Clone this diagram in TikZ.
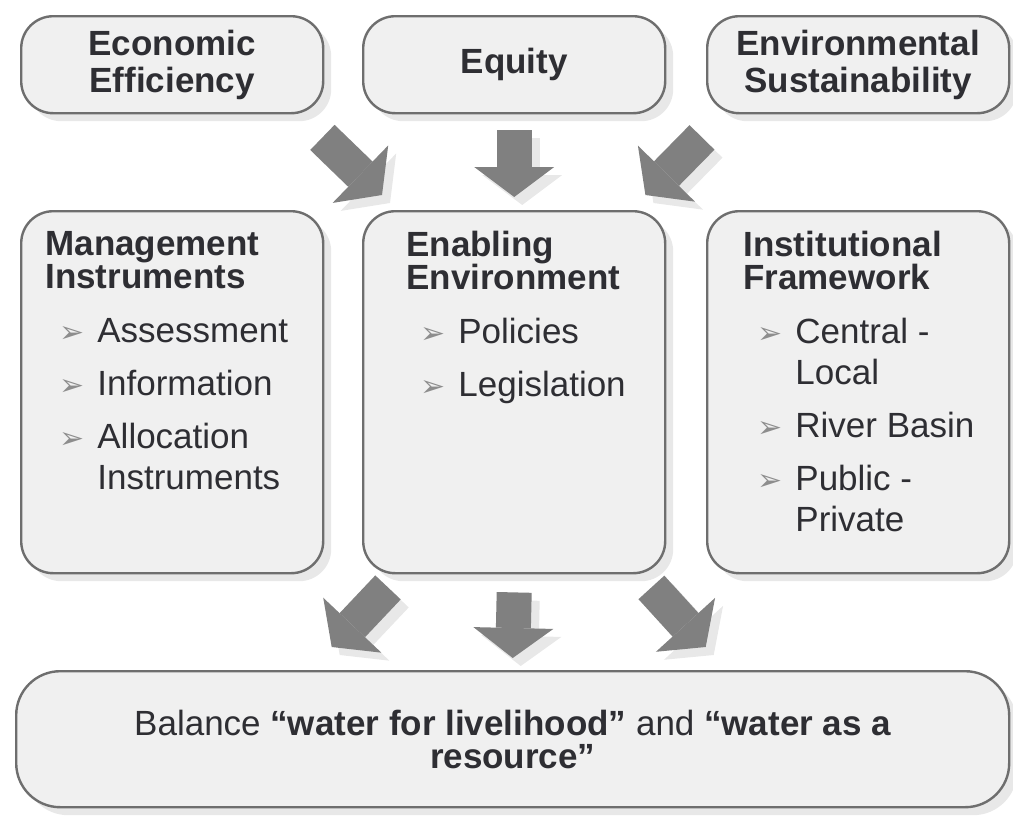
\documentclass[tikz,border=0pt]{standalone}
\usepackage{fontspec}
\setmainfont{Liberation Sans}
\newfontfamily\bulletfont{DejaVu Sans}
\usetikzlibrary{arrows.meta,shadows,calc}

\definecolor{boxfill}{HTML}{F0F0F0}
\definecolor{boxline}{HTML}{6E6E6E}
\definecolor{arrowgray}{HTML}{808080}
\definecolor{shadegray}{HTML}{E8E8E8}
\definecolor{textdark}{HTML}{2E2E33}

\newcommand{\bul}{{\bulletfont\fontsize{15}{15}\selectfont\color{arrowgray!90}➢}}
\newcommand{\itm}[1]{\hspace*{7pt}\makebox[19pt][l]{\bul}#1}
\newcommand{\cnt}[1]{\hspace*{26pt}#1}

\tikzset{
  box/.style={draw=boxline, line width=1.2pt, fill=boxfill, rounded corners=16pt,
    drop shadow={shadow xshift=4pt, shadow yshift=-4pt, fill=shadegray, opacity=1},
    anchor=north west, inner sep=0pt, text=textdark},
  topbox/.style={minimum width=151pt, minimum height=48.5pt, align=center,
    font={\fontsize{17.5}{18.5}\selectfont\bfseries}},
  midbox/.style={minimum width=151pt, minimum height=181pt},
  listtext/.style={anchor=north west, inner sep=0pt, align=left, text=textdark,
    font={\fontsize{17.5}{16.5}\selectfont}},
  bigarrow/.style={arrowgray, line width=17.5pt,
    -{Triangle[length=15pt, width=40pt, line width=0pt]}},
  arrowshade/.style={shadegray, line width=17.5pt,
    -{Triangle[length=15pt, width=40pt, line width=0pt]},
    transform canvas={shift={(4pt,-4pt)}}}
}

\begin{document}
\begin{tikzpicture}[x=0.5pt, y=0.5pt]
\useasboundingbox (0,0) rectangle (1013,-815);
% top row
\node[box, topbox] (eff) at (20,-15) {Economic\\Efficiency};
\node[box, topbox] (equity) at (362,-15) {Equity};
\node[box, topbox] (env) at (706,-15) {Environmental\\Sustainability};
% middle row
\node[box, midbox] (mgmt) at (20,-210) {};
\node[box, midbox] (enab) at (362,-210) {};
\node[box, midbox] (inst) at (706,-210) {};
\node[listtext] (mgmttext) at ($(mgmt.north west)+(25,-21)$)
  {\textbf{Management}\\\textbf{Instruments}\\[10.5pt]
   \itm{Assessment}\\[10pt] \itm{Information}\\[10pt]
   \itm{Allocation}\\[4pt] \cnt{Instruments}};
\node[listtext] (enabtext) at ($(enab.north west)+(44,-21)$)
  {\textbf{Enabling}\\\textbf{Environment}\\[10.5pt]
   \itm{Policies}\\[10pt] \itm{Legislation}};
\node[listtext] (insttext) at ($(inst.north west)+(37,-21)$)
  {\textbf{Institutional}\\\textbf{Framework}\\[10.5pt]
   \itm{Central -}\\[4pt] \cnt{Local}\\[10pt] \itm{River Basin}\\[10pt]
   \itm{Public -}\\[4pt] \cnt{Private}};
% bottom row
\node[box, rounded corners=22pt, minimum width=496.5pt, minimum height=68pt,
  align=center, font={\fontsize{17.5}{16.5}\selectfont}] (bal) at (15,-670)
  {Balance \textbf{“water for livelihood”} and \textbf{“water as a}\\\textbf{resource”}};
% arrow ends
\coordinate (t1) at ($(eff.south east)+(-2,-23)$);
\coordinate (h1) at ($(enab.north west)+(20,15)$);
\coordinate (t2) at ($(equity.south)+(0,-16)$);
\coordinate (h2) at ($(enab.north)+(0,13)$);
\coordinate (t3) at ($(env.south west)+(-4,-23)$);
\coordinate (h3) at ($(enab.north east)+(-21,15)$);
\coordinate (t4) at ($(enab.south west)+(26,-13)$);
\coordinate (h4) at ($(bal.north)+(-181,23)$);
\coordinate (t5) at ($(enab.south)+(0,-18)$);
\coordinate (h5) at ($(bal.north)+(0,12)$);
\coordinate (t6) at ($(enab.south east)+(-15,-13)$);
\coordinate (h6) at ($(bal.north)+(193,23)$);
\foreach \from/\to in {t1/h1, t2/h2, t3/h3, t4/h4, t5/h5, t6/h6}
  \draw[arrowshade] (\from) -- (\to);
\foreach \from/\to in {t1/h1, t2/h2, t3/h3, t4/h4, t5/h5, t6/h6}
  \draw[bigarrow] (\from) -- (\to);
\end{tikzpicture}
\end{document}
